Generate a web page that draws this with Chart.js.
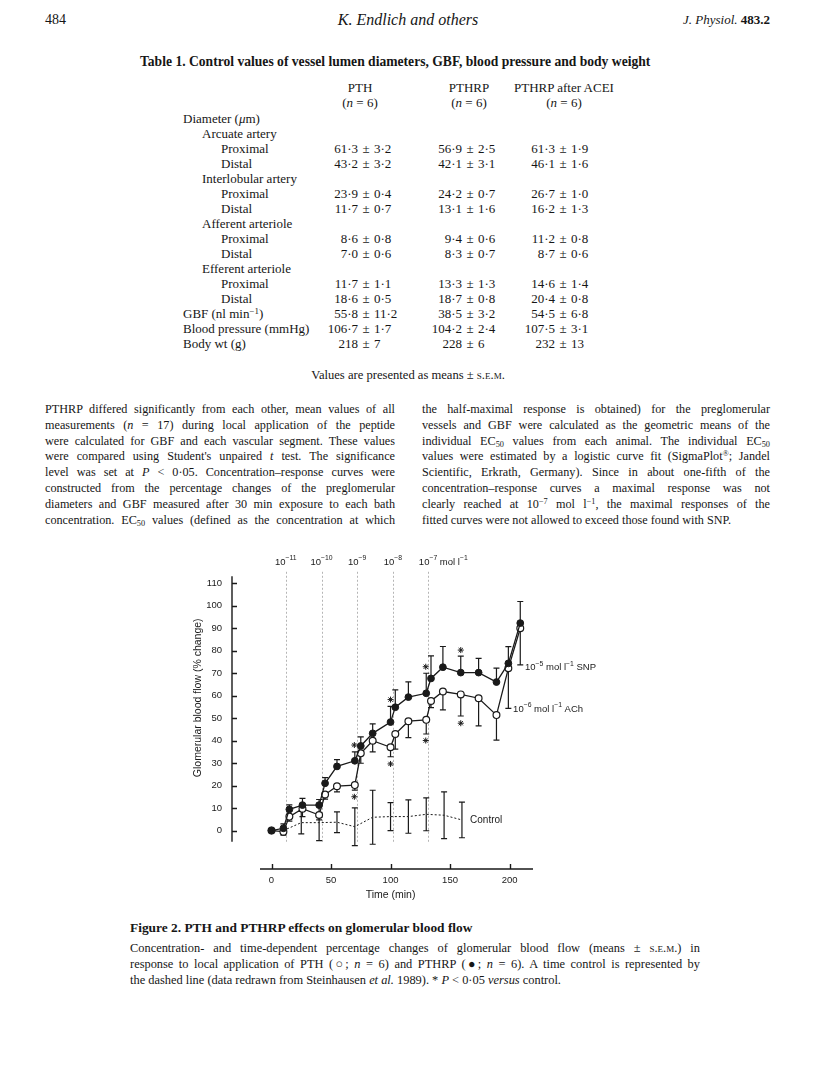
<!DOCTYPE html>
<html>
<head>
<meta charset="utf-8">
<script src="https://cdn.jsdelivr.net/npm/chart.js@4.4.1/dist/chart.umd.min.js"></script>
<style>
body { margin: 0; background: #fff; }
#page { position: relative; width: 816px; height: 1070px; font-family: "Liberation Serif", "DejaVu Serif", serif; color: #161616; overflow: hidden; }
.t { position: absolute; white-space: nowrap; line-height: 16px; }
.j { position: absolute; line-height: 16px; text-align: justify; text-align-last: justify; }
.sc { font-variant: small-caps; }
sup { font-size: 0.68em; line-height: 0; vertical-align: 0.45em; }
sub { font-size: 0.68em; line-height: 0; vertical-align: -0.2em; }
#chartBox { position: absolute; left: 150px; top: 540px; width: 460px; height: 370px; }
</style>
</head>
<body>
<div id="page">
  <div class="t" style="left:45px;top:12px;font-size:14px;">484</div>
  <div class="t" style="left:0;width:816px;text-align:center;top:12px;font-size:16px;font-style:italic;">K. Endlich and others</div>
  <div class="t" style="right:46px;top:12px;font-size:13px;"><i>J. Physiol.</i> <b>483.2</b></div>

  <div class="t" style="left:140px;top:54px;font-size:13.6px;font-weight:bold;">Table 1. Control values of vessel lumen diameters, GBF, blood pressure and body weight</div>
  <div class="t" style="left:0;width:816px;text-align:center;top:367px;font-size:12.6px;">Values are presented as means ± <span class="sc">s.e.m.</span></div>

  <div id="chartBox"><canvas id="chart" width="460" height="370"></canvas></div>

  <div class="t" style="left:130px;top:920px;font-size:13.4px;font-weight:bold;">Figure 2. PTH and PTHRP effects on glomerular blood flow</div>
  <div class="j" style="left:130px;top:940px;width:570px;font-size:12.4px;">Concentration- and time-dependent percentage changes of glomerular blood flow (means ± <span class="sc">s.e.m.</span>) in</div>
  <div class="j" style="left:130px;top:956px;width:570px;font-size:12.4px;">response to local application of PTH (○; <i>n</i> = 6) and PTHRP (●; <i>n</i> = 6). A time control is represented by</div>
  <div class="t" style="left:130px;top:972px;font-size:12.4px;">the dashed line (data redrawn from Steinhausen <i>et al.</i> 1989). * <i>P</i> &lt; 0·05 <i>versus</i> control.</div>
</div>

<script>
// ---- figure data ----
const pthrpTime = [0, 10, 15, 26, 40, 45, 55, 70, 75, 85, 100, 104, 115, 130, 134, 144, 159, 174, 189, 199, 209];
const pthrpValue = [0, 1, 9.4, 11.3, 11.3, 21, 28.5, 31, 37.6, 43.2, 48.2, 54.8, 59.3, 61, 67.6, 72.6, 70.2, 70.2, 66, 74.3, 92.2];
const pthrpSem = [0, 2, 2, 3, 2.5, 2.5, 3, 4, 4, 4.2, 7, 7.7, 6.8, 8.9, 10, 9.2, 7.3, 6.3, 6.2, 7.4, 9.6];

const pthTime = [0, 10, 15, 26, 40, 45, 55, 70, 75, 85, 100, 104, 115, 130, 134, 144, 159, 174, 189, 199, 209];
const pthValue = [0, -0.5, 6.2, 9.7, 6.9, 16, 19.7, 20.2, 34.3, 39.9, 37, 42.9, 48.6, 49.2, 57.6, 61.8, 60.5, 58.8, 51.3, 72.1, 89.9];
const pthSem = [0, 1.5, 2, 3.5, 2.2, 2, 2.5, 2.2, 4.4, 4.9, 4.2, 6.7, 7.3, 6.3, 3, 8.2, 9.6, 12.3, 11.1, 17.8, 16.3];

const controlTime = [10, 25, 40, 55, 70, 85, 100, 115, 130, 145, 160];
const controlValue = [0, 3.5, 3.5, 3.7, 1.7, 5.9, 6.2, 6.2, 7.2, 6.8, 4.7];
const controlSem = [0, 5, 8, 4.6, 8.4, 12, 6.2, 7.4, 7.3, 10.4, 7.9];

const starTime = [69.6, 69.6, 100, 100, 129.6, 129.6, 159, 159];
const starValue = [38, 15, 58.2, 29.6, 72.8, 40, 80.2, 47.7];

const concTime = [12, 42, 72, 102, 131.5];
const concLabels = [['10', '−11'], ['10', '−10'], ['10', '−9'], ['10', '−8'], ['10', '−7', ' mol l', '−1']];

const xTicks = [0, 50, 100, 150, 200];
const yTicks = [0, 10, 20, 30, 40, 50, 60, 70, 80, 90, 100, 110];

// ---- table 1 ----
const tableHead = [['PTH', '(<i>n</i> = 6)'], ['PTHRP', '(<i>n</i> = 6)'], ['PTHRP after ACEI', '(<i>n</i> = 6)']];
const tableRows = [
	['Diameter (<i>μ</i>m)', 0],
	['Arcuate artery', 1],
	['Proximal', 2, ['61·3', '3·2'], ['56·9', '2·5'], ['61·3', '1·9']],
	['Distal', 2, ['43·2', '3·2'], ['42·1', '3·1'], ['46·1', '1·6']],
	['Interlobular artery', 1],
	['Proximal', 2, ['23·9', '0·4'], ['24·2', '0·7'], ['26·7', '1·0']],
	['Distal', 2, ['11·7', '0·7'], ['13·1', '1·6'], ['16·2', '1·3']],
	['Afferent arteriole', 1],
	['Proximal', 2, ['8·6', '0·8'], ['9·4', '0·6'], ['11·2', '0·8']],
	['Distal', 2, ['7·0', '0·6'], ['8·3', '0·7'], ['8·7', '0·6']],
	['Efferent arteriole', 1],
	['Proximal', 2, ['11·7', '1·1'], ['13·3', '1·3'], ['14·6', '1·4']],
	['Distal', 2, ['18·6', '0·5'], ['18·7', '0·8'], ['20·4', '0·8']],
	['GBF (nl min<sup>−1</sup>)', 0, ['55·8', '11·2'], ['38·5', '3·2'], ['54·5', '6·8']],
	['Blood pressure (mmHg)', 0, ['106·7', '1·7'], ['104·2', '2·4'], ['107·5', '3·1']],
	['Body wt (g)', 0, ['218', '7'], ['228', '6'], ['232', '13']],
];

const leftText = [
	'PTHRP differed significantly from each other, mean values of all',
	'measurements (<i>n</i> = 17) during local application of the peptide',
	'were calculated for GBF and each vascular segment. These values',
	'were compared using Student\'s unpaired <i>t</i> test. The significance',
	'level was set at <i>P</i> &lt; 0·05. Concentration–response curves were',
	'constructed from the percentage changes of the preglomerular',
	'diameters and GBF measured after 30 min exposure to each bath',
	'concentration. EC<sub>50</sub> values (defined as the concentration at which',
];
const rightText = [
	'the half-maximal response is obtained) for the preglomerular',
	'vessels and GBF were calculated as the geometric means of the',
	'individual EC<sub>50</sub> values from each animal. The individual EC<sub>50</sub>',
	'values were estimated by a logistic curve fit (SigmaPlot<sup>®</sup>; Jandel',
	'Scientific, Erkrath, Germany). Since in about one-fifth of the',
	'concentration–response curves a maximal response was not',
	'clearly reached at 10<sup>−7</sup> mol l<sup>−1</sup>, the maximal responses of the',
	'fitted curves were not allowed to exceed those found with SNP.',
];

const page = document.getElementById('page');
function addDiv(cls, style, html) {
	const d = document.createElement('div');
	d.className = cls;
	d.style.cssText = style;
	d.innerHTML = html;
	page.appendChild(d);
}

const pmX = [366, 470, 563];
const headX = [360, 469, 564];
const tf = 'font-size:13px;';
tableHead.forEach((h, i) => {
	addDiv('t', `left:${headX[i] - 100}px;width:200px;text-align:center;top:80px;${tf}`, h[0]);
	addDiv('t', `left:${headX[i] - 100}px;width:200px;text-align:center;top:95px;${tf}`, h[1]);
});
tableRows.forEach((r, k) => {
	const top = 111 + k * 15;
	const indent = [183, 202, 221][r[1]];
	addDiv('t', `left:${indent}px;top:${top}px;${tf}`, r[0]);
	for (let c = 0; c < 3; c++) {
		const cell = r[2 + c];
		if (!cell) continue;
		addDiv('t', `left:${pmX[c] - 108}px;width:100px;text-align:right;top:${top}px;${tf}`, cell[0]);
		addDiv('t', `left:${pmX[c] - 6}px;width:12px;text-align:center;top:${top}px;${tf}`, '±');
		addDiv('t', `left:${pmX[c] + 8}px;top:${top}px;${tf}`, cell[1]);
	}
});

leftText.forEach((line, k) => {
	addDiv('j', `left:45px;width:350px;top:${401 + k * 15.8}px;font-size:12.2px;`, line);
});
rightText.forEach((line, k) => {
	const last = k === rightText.length - 1 ? 'text-align-last:left;' : '';
	addDiv('j', `left:422px;width:348px;top:${401 + k * 15.8}px;font-size:12.2px;${last}`, line);
});

// ---- chart ----
const ink = '#1a1a1a';
const sans = '"Liberation Sans", Arial, sans-serif';

function drawParts(ctx, parts, x, y, size) {
	let cx = x;
	parts.forEach((s, i) => {
		const sup = i % 2 === 1;
		ctx.font = (sup ? size * 0.72 : size) + 'px ' + sans;
		ctx.fillText(s, cx, sup ? y - size * 0.4 : y);
		cx += ctx.measureText(s).width;
	});
}
function partsWidth(ctx, parts, size) {
	let w = 0;
	parts.forEach((s, i) => {
		ctx.font = (i % 2 === 1 ? size * 0.72 : size) + 'px ' + sans;
		w += ctx.measureText(s).width;
	});
	return w;
}

const figurePlugin = {
	id: 'figure',
	beforeDatasetsDraw(chart) {
		const {ctx, chartArea, scales: {x, y}} = chart;
		ctx.save();
		// concentration marks
		ctx.strokeStyle = '#b5b5b5';
		ctx.lineWidth = 1;
		ctx.setLineDash([2, 2]);
		concTime.forEach(t => {
			const px = Math.round(x.getPixelForValue(t)) + 0.5;
			ctx.beginPath();
			ctx.moveTo(px, y.getPixelForValue(-5));
			ctx.lineTo(px, chartArea.top);
			ctx.stroke();
		});
		ctx.setLineDash([]);
		// error bars
		ctx.strokeStyle = ink;
		ctx.lineWidth = 1.2;
		chart.data.datasets.forEach(ds => {
			if (!ds.sem) return;
			ds.data.forEach((p, k) => {
				const e = ds.sem[k];
				if (!e) return;
				const px = x.getPixelForValue(p.x);
				ds.semDir.forEach(s => {
					const y0 = y.getPixelForValue(p.y);
					const y1 = y.getPixelForValue(p.y + s * e);
					ctx.beginPath();
					ctx.moveTo(px, y0);
					ctx.lineTo(px, y1);
					ctx.moveTo(px - 3, y1);
					ctx.lineTo(px + 3, y1);
					ctx.stroke();
				});
			});
		});
		ctx.restore();
	},
	afterDraw(chart) {
		const {ctx, chartArea, scales: {x, y}} = chart;
		ctx.save();
		ctx.strokeStyle = ink;
		ctx.fillStyle = ink;
		// y axis with inward ticks
		ctx.lineWidth = 1.4;
		ctx.beginPath();
		ctx.moveTo(chartArea.left, y.getPixelForValue(113));
		ctx.lineTo(chartArea.left, y.getPixelForValue(-5));
		yTicks.forEach(v => {
			const py = Math.round(y.getPixelForValue(v)) + 0.5;
			ctx.moveTo(chartArea.left, py);
			ctx.lineTo(chartArea.left + 5, py);
		});
		ctx.stroke();
		// detached x axis
		ctx.beginPath();
		ctx.moveTo(x.getPixelForValue(-9.7), chartArea.bottom);
		ctx.lineTo(x.getPixelForValue(219.7), chartArea.bottom);
		xTicks.forEach(v => {
			const px = Math.round(x.getPixelForValue(v)) + 0.5;
			ctx.moveTo(px, chartArea.bottom);
			ctx.lineTo(px, chartArea.bottom - 5);
		});
		ctx.stroke();

		ctx.textBaseline = 'middle';
		ctx.textAlign = 'left';
		// concentration labels
		concLabels.forEach((parts, i) => {
			const w = partsWidth(ctx, parts.slice(0, 2), 9.5);
			drawParts(ctx, parts, x.getPixelForValue(concTime[i]) - w / 2, chartArea.top - 8, 9.5);
		});
		// curve labels
		drawParts(ctx, ['Control'], x.getPixelForValue(166.8), y.getPixelForValue(4.4), 10);
		drawParts(ctx, ['10', '−5', ' mol l', '−1', ' SNP'], x.getPixelForValue(213), y.getPixelForValue(72.5), 9.5);
		drawParts(ctx, ['10', '−6', ' mol l', '−1', ' ACh'], x.getPixelForValue(203), y.getPixelForValue(54), 9.5);
		// axis titles
		ctx.textAlign = 'center';
		ctx.font = '10.5px ' + sans;
		ctx.fillText('Time (min)', x.getPixelForValue(100), chartArea.bottom + 26);
		ctx.translate(chartArea.left - 34, y.getPixelForValue(59));
		ctx.rotate(-Math.PI / 2);
		ctx.fillText('Glomerular blood flow (% change)', 0, 0);
		ctx.restore();
	}
};

const toPoints = (xs, ys) => xs.map((t, i) => ({x: t, y: ys[i]}));

new Chart(document.getElementById('chart').getContext('2d'), {
	type: 'line',
	data: {
		datasets: [
			{
				data: toPoints(pthrpTime, pthrpValue),
				sem: pthrpSem,
				semDir: [1],
				borderColor: ink,
				borderWidth: 1.3,
				pointRadius: 3.4,
				pointBackgroundColor: ink,
				pointBorderColor: ink,
				pointBorderWidth: 1,
				order: 1,
			},
			{
				data: toPoints(pthTime, pthValue),
				sem: pthSem,
				semDir: [-1],
				borderColor: ink,
				borderWidth: 1.3,
				pointRadius: 3.4,
				pointBackgroundColor: '#fff',
				pointBorderColor: ink,
				pointBorderWidth: 1.2,
				order: 2,
			},
			{
				data: toPoints(controlTime, controlValue),
				sem: controlSem,
				semDir: [1, -1],
				borderColor: ink,
				borderWidth: 1,
				borderDash: [2, 2],
				pointRadius: 0,
				order: 3,
			},
			{
				type: 'scatter',
				data: toPoints(starTime, starValue),
				pointStyle: 'star',
				pointRadius: 3,
				borderColor: ink,
				borderWidth: 1,
				order: 0,
			},
		],
	},
	options: {
		responsive: false,
		animation: false,
		devicePixelRatio: 1,
		layout: {padding: {left: 37, top: 30, right: 77, bottom: 0}},
		scales: {
			x: {
				type: 'linear',
				min: -33.2,
				max: 219.7,
				afterBuildTicks: s => { s.ticks = xTicks.map(v => ({value: v})); },
				afterFit: s => { s.height = 41; },
				grid: {display: false, drawTicks: false},
				border: {display: false},
				ticks: {color: ink, padding: 6, font: {family: sans, size: 9.5}},
			},
			y: {
				min: -17.1,
				max: 115.8,
				afterBuildTicks: s => { s.ticks = yTicks.map(v => ({value: v})); },
				afterFit: s => { s.width = 45; },
				grid: {display: false, drawTicks: false},
				border: {display: false},
				ticks: {color: ink, padding: 10, font: {family: sans, size: 9.5}},
			},
		},
		plugins: {
			legend: {display: false},
			title: {display: false},
			tooltip: {enabled: false},
		},
	},
	plugins: [figurePlugin],
});
</script>
</body>
</html>
